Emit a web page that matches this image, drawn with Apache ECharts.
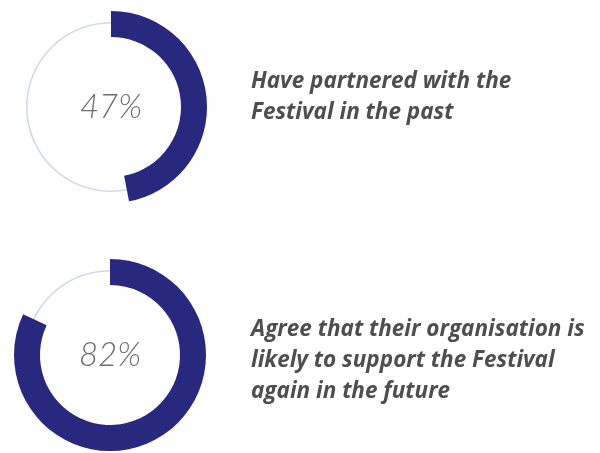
<!DOCTYPE html>
<html>
<head>
<meta charset="utf-8">
<style>
  html, body { margin: 0; padding: 0; background: #ffffff; }
  #chart { width: 600px; height: 453px; }
</style>
<script src="https://cdn.jsdelivr.net/npm/echarts@6/dist/echarts.min.js"></script>
</head>
<body>
<div id="chart"></div>
<script>
// Survey results: share of partners for each statement
const values = [47, 82];
const captions = [
  'Have partnered with the\nFestival in the past',
  'Agree that their organisation is\nlikely to support the Festival\nagain in the future'
];
const centers = [[111, 107], [110, 355]];
const captionTops = [61, 309];

const navy = '#28287f';
const ringLine = '#cdd6ea';

const series = [];
values.forEach((v, i) => {
  // thin full ring behind the progress arc
  series.push({
    type: 'pie',
    center: centers[i],
    radius: [83.5, 85],
    silent: true,
    startAngle: 90,
    label: { show: false },
    labelLine: { show: false },
    itemStyle: { color: ringLine },
    data: [{ value: 100 }]
  });
  // thick arc for the share, remainder left empty
  series.push({
    type: 'pie',
    center: centers[i],
    radius: [70, 96],
    silent: true,
    startAngle: 90,
    clockwise: true,
    labelLine: { show: false },
    data: [
      {
        value: v,
        itemStyle: { color: navy },
        label: {
          show: true,
          position: 'center',
          formatter: '{c}%',
          fontFamily: 'Lato',
          fontStyle: 'italic',
          fontWeight: 300,
          fontSize: 33,
          color: '#6e6e6e'
        }
      },
      {
        value: 100 - v,
        itemStyle: { color: 'rgba(0,0,0,0)' },
        label: { show: false }
      }
    ]
  });
});

const titles = captions.map((t, i) => ({
  text: t,
  left: 246,
  top: captionTops[i],
  textStyle: {
    fontFamily: 'Open Sans',
    fontStyle: 'italic',
    fontWeight: 'bold',
    fontSize: 22.5,
    lineHeight: 31,
    color: '#4e4e4e'
  }
}));

const chart = echarts.init(document.getElementById('chart'), null, { renderer: 'canvas' });
chart.setOption({
  backgroundColor: '#ffffff',
  animation: false,
  title: titles,
  series: series
});
</script>
</body>
</html>
